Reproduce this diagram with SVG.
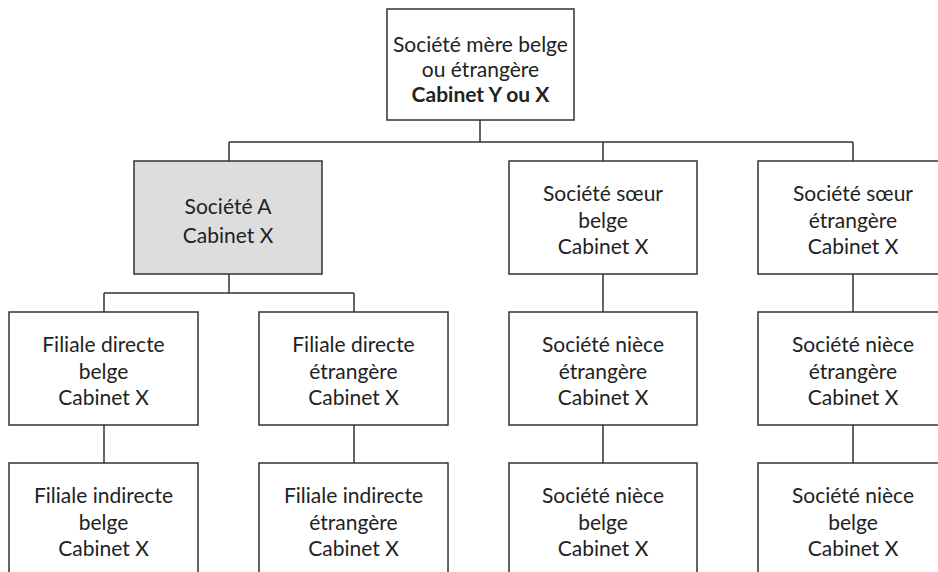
<svg xmlns="http://www.w3.org/2000/svg" width="938" height="572" viewBox="0 0 938 572">
  <style>
    .box { fill: #ffffff; stroke: #333333; stroke-width: 1.5; }
    .box.hl { fill: #dddddd; }
    .wire { fill: none; stroke: #333333; stroke-width: 1.5; }
    text { font-family: Lato, "Open Sans", sans-serif; font-size: 21px; fill: #222222; text-anchor: middle; }
    .b { font-weight: bold; }
  </style>
  <rect width="938" height="572" fill="#ffffff"/>

  <g id="connectors">
    <path class="wire" d="M480,120 V142 M229,142 H853 M229,142 V161 M603,142 V161 M853,142 V161"/>
    <path class="wire" d="M229,274 V293 M104,293 H354 M104,293 V312 M354,293 V312"/>
    <path class="wire" d="M603,274 V312 M853,274 V312"/>
    <path class="wire" d="M104,425 V463 M354,425 V463 M603,425 V463 M853,425 V463"/>
  </g>

  <g id="mere">
    <rect class="box" x="387" y="9" width="187" height="111"/>
    <text x="480.5" y="52">Société mère belge</text>
    <text x="480.5" y="77">ou étrangère</text>
    <text x="480.5" y="102" class="b">Cabinet Y ou X</text>
  </g>

  <g id="societe-a">
    <rect class="box hl" x="134" y="161" width="188" height="113"/>
    <text x="228" y="214">Société A</text>
    <text x="228" y="243">Cabinet X</text>
  </g>

  <g id="soeur-belge">
    <rect class="box" x="509" y="161" width="188" height="113"/>
    <text x="603" y="201">Société sœur</text>
    <text x="603" y="227.5">belge</text>
    <text x="603" y="254">Cabinet X</text>
  </g>

  <g id="soeur-etrangere">
    <rect class="box" x="758" y="161" width="190" height="113"/>
    <text x="853" y="201">Société sœur</text>
    <text x="853" y="227.5">étrangère</text>
    <text x="853" y="254">Cabinet X</text>
  </g>

  <g id="filiale-directe-belge">
    <rect class="box" x="9" y="312" width="189" height="113"/>
    <text x="103.5" y="352">Filiale directe</text>
    <text x="103.5" y="378.5">belge</text>
    <text x="103.5" y="405">Cabinet X</text>
  </g>

  <g id="filiale-directe-etrangere">
    <rect class="box" x="259" y="312" width="189" height="113"/>
    <text x="353.5" y="352">Filiale directe</text>
    <text x="353.5" y="378.5">étrangère</text>
    <text x="353.5" y="405">Cabinet X</text>
  </g>

  <g id="niece-etrangere-1">
    <rect class="box" x="509" y="312" width="188" height="113"/>
    <text x="603" y="352">Société nièce</text>
    <text x="603" y="378.5">étrangère</text>
    <text x="603" y="405">Cabinet X</text>
  </g>

  <g id="niece-etrangere-2">
    <rect class="box" x="758" y="312" width="190" height="113"/>
    <text x="853" y="352">Société nièce</text>
    <text x="853" y="378.5">étrangère</text>
    <text x="853" y="405">Cabinet X</text>
  </g>

  <g id="filiale-indirecte-belge">
    <rect class="box" x="9" y="463" width="189" height="120"/>
    <text x="103.5" y="503">Filiale indirecte</text>
    <text x="103.5" y="529.5">belge</text>
    <text x="103.5" y="556">Cabinet X</text>
  </g>

  <g id="filiale-indirecte-etrangere">
    <rect class="box" x="259" y="463" width="189" height="120"/>
    <text x="353.5" y="503">Filiale indirecte</text>
    <text x="353.5" y="529.5">étrangère</text>
    <text x="353.5" y="556">Cabinet X</text>
  </g>

  <g id="niece-belge-1">
    <rect class="box" x="509" y="463" width="188" height="120"/>
    <text x="603" y="503">Société nièce</text>
    <text x="603" y="529.5">belge</text>
    <text x="603" y="556">Cabinet X</text>
  </g>

  <g id="niece-belge-2">
    <rect class="box" x="758" y="463" width="190" height="120"/>
    <text x="853" y="503">Société nièce</text>
    <text x="853" y="529.5">belge</text>
    <text x="853" y="556">Cabinet X</text>
  </g>
</svg>
